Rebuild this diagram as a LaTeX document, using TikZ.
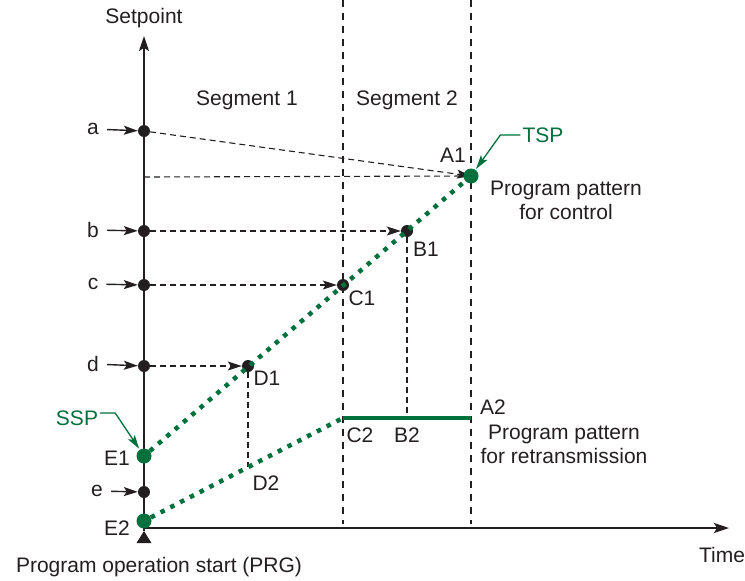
\documentclass[tikz,border=0pt]{standalone}
\usepackage{fontspec}
\setmainfont{Liberation Sans}
\usepackage{xcolor}
\usetikzlibrary{arrows.meta,positioning}
\definecolor{inkx}{HTML}{231F20}
\definecolor{greenx}{HTML}{00703C}
\tikzset{
  ax/.style={-{Stealth[length=15pt,width=10pt,inset=3pt]},line width=1.5pt,inkx},
  ar/.style={-{Stealth[length=14pt,width=9pt,inset=3pt]},line width=1.4pt,inkx},
  da/.style={-{Stealth[length=14pt,width=9pt,inset=3pt]},line width=1.1pt,inkx,dash pattern=on 6pt off 4pt},
  dl/.style={line width=1.1pt,inkx,dash pattern=on 6pt off 4pt},
  sg/.style={line width=1.2pt,inkx,dash pattern=on 7pt off 6pt},
  gd/.style={line width=4.5pt,greenx,dash pattern=on 4.5pt off 6.5pt},
  gs/.style={line width=4.5pt,greenx},
  ga/.style={-{Stealth[length=14pt,width=8pt,inset=3pt]},line width=1.3pt,greenx},
  pt/.style={circle,fill=inkx,inner sep=0pt,minimum size=12pt},
  gp/.style={circle,fill=greenx,inner sep=0pt,minimum size=15pt},
  lb/.style={text=inkx,inner sep=2pt},
  gl/.style={text=greenx,inner sep=2pt}
}
\begin{document}
\begin{tikzpicture}[x=1pt,y=-1pt,font=\fontsize{21}{24}\selectfont]
\useasboundingbox (0,0) rectangle (745,581);
\coordinate (org) at (144,528);
\coordinate (ytop) at (144,36);
\coordinate (ybot) at (144,531);
\coordinate (xend) at (729,528);
\coordinate (s1t) at (343,0);
\coordinate (s1b) at (343,524);
\coordinate (s2t) at (471,0);
\coordinate (s2b) at (471,524);
\coordinate (hA) at (144,177);
\draw[sg] (s1t) -- (s1b);
\draw[sg] (s2t) -- (s2b);
\draw[ax] (ybot) -- (ytop);
\draw[ax] (org) -- (xend);
\fill[inkx] (136.5,543) -- (144,531) -- (151.5,543) -- cycle;
\node[lb] (setp) at (144,18) {Setpoint};
\node[lb] (time) at (722,555) {Time};
\node[lb] (prg) at (159,567) {Program operation start (PRG)};
\node[lb] (seg1) at (247,100) {Segment 1};
\node[lb] (seg2) at (407,100) {Segment 2};
% setpoints on the axis
\node[pt] (pa) at (144,131) {};
\node[pt] (pb) at (144,231) {};
\node[pt] (pc) at (144,285) {};
\node[pt] (pd) at (144,366) {};
\node[pt] (pe) at (144,492) {};
\node[lb] (la) at (93,129) {a};
\node[lb] (lb) at (93,230) {b};
\node[lb] (lc) at (93,284) {c};
\node[lb] (ld) at (93,364) {d};
\node[lb] (le) at (97,491) {e};
\foreach \s in {a,b,c,d,e}
  \draw[ar,shorten <=6pt] (l\s) -- (p\s);
% points on the patterns
\node[pt] (B1) at (407,231) {};
\node[pt] (C1) at (343,285) {};
\node[pt] (D1) at (248,366) {};
\coordinate (C2) at (343,418);
\coordinate (B2) at (407,418);
\coordinate (A2) at (471,418);
\coordinate (D2) at (248,467);
\draw[da] (pa) -- (471,176);
\draw[dl] (hA) -- (471,176);
\draw[da] (pb) -- (B1);
\draw[da] (pc) -- (C1);
\draw[da] (pd) -- (D1);
\draw[dl] (B1) -- (B2);
\draw[dl] (D1) -- (D2);
\node[gp] (E1) at (144,456) {};
\node[gp] (E2) at (144,521) {};
\node[gp] (A1) at (471,176) {};
\draw[gd] (E1) -- (A1);
\draw[gd] (E2) -- (C2);
\draw[gs] (C2) -- (A2);
\node[lb] (tA1) at (453,155) {A1};
\node[lb] (tB1) at (426,249) {B1};
\node[lb] (tC1) at (362,298) {C1};
\node[lb] (tD1) at (267,378) {D1};
\node[lb] (tD2) at (266,483) {D2};
\node[lb] (tA2) at (493,407) {A2};
\node[lb] (tC2) at (360,435) {C2};
\node[lb] (tB2) at (407,435) {B2};
\node[lb,anchor=east] (tE1) at (132,458) {E1};
\node[lb,anchor=east] (tE2) at (132,528) {E2};
\node[lb,align=center] (ctl) at (566,200) {Program pattern\\for control};
\node[lb,align=center] (rtr) at (564,444) {Program pattern\\for retransmission};
\node[gl] (tsp) at (543,135) {TSP};
\node[gl] (ssp) at (77,418) {SSP};
\draw[ga,shorten >=1pt] (tsp.west) -- ++(-20,0) -- (A1);
\draw[ga,shorten >=1pt] (ssp.east) ++(0,-5) -- ++(15,0) -- (E1);
\end{tikzpicture}
\end{document}
